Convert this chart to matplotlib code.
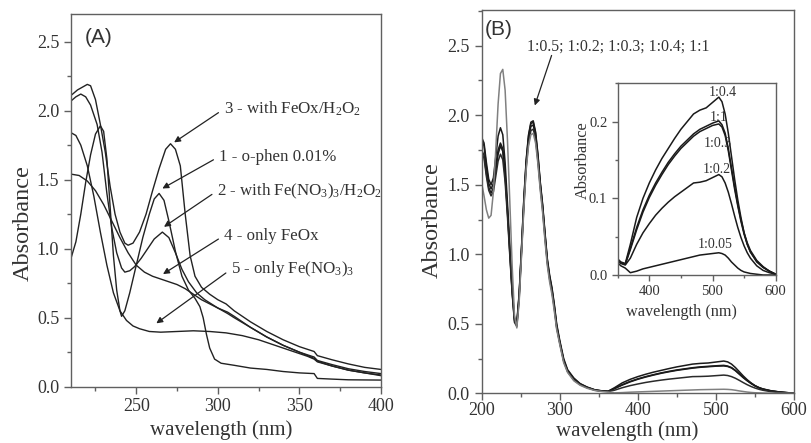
import matplotlib
matplotlib.use('Agg')
import matplotlib.pyplot as plt
from matplotlib.ticker import MultipleLocator, FormatStrFormatter

plt.rcParams['font.family'] = ['Liberation Serif', 'DejaVu Serif']
plt.rcParams['mathtext.fontset'] = 'custom'
plt.rcParams['mathtext.rm'] = 'Liberation Serif'
plt.rcParams['mathtext.it'] = 'Liberation Serif:italic'

# ---------------- Panel A data ----------------
xA3 = [210, 214, 217, 220, 222, 225, 228, 231, 234, 237, 240, 243, 245, 248, 252, 256, 260, 264, 268, 271,
       274, 277, 280, 283, 286, 290, 295, 300, 305, 307, 310, 320, 330, 340, 350, 359, 361, 370, 380, 390, 400]
yA3 = [2.11, 2.15, 2.17, 2.19, 2.18, 2.08, 1.90, 1.70, 1.45, 1.25, 1.12, 1.04, 1.025, 1.04, 1.12, 1.25, 1.42, 1.58, 1.72, 1.76,
       1.72, 1.60, 1.25, 0.95, 0.80, 0.72, 0.67, 0.63, 0.60, 0.58, 0.55, 0.47, 0.40, 0.34, 0.29, 0.255, 0.225, 0.195, 0.165, 0.14, 0.125]

xA2 = [210, 213, 216, 219, 222, 226, 229, 232, 235, 238, 241, 243, 246, 249, 253, 257, 261, 266, 270, 274,
       278, 282, 287, 292, 300, 306, 310, 320, 330, 340, 350, 359, 361, 370, 380, 390, 400]
yA2 = [2.07, 2.10, 2.12, 2.10, 2.04, 1.90, 1.70, 1.40, 1.15, 0.97, 0.86, 0.83, 0.84, 0.87, 0.93, 1.00, 1.07, 1.12, 1.08, 0.97,
       0.85, 0.76, 0.68, 0.63, 0.57, 0.54, 0.51, 0.43, 0.36, 0.30, 0.25, 0.215, 0.19, 0.16, 0.13, 0.11, 0.095]

xA4 = [210, 215, 220, 225, 230, 235, 240, 245, 250, 255, 260, 265, 270, 275, 280, 285, 290, 300, 306, 310,
       320, 330, 340, 350, 359, 361, 370, 380, 390, 400]
yA4 = [1.54, 1.53, 1.49, 1.42, 1.32, 1.20, 1.08, 0.97, 0.88, 0.83, 0.80, 0.78, 0.76, 0.74, 0.71, 0.67, 0.63, 0.57, 0.53, 0.50,
       0.43, 0.36, 0.30, 0.25, 0.205, 0.185, 0.15, 0.12, 0.10, 0.08]

xA5 = [210, 213, 216, 220, 224, 228, 232, 236, 240, 244, 248, 252, 258, 265, 275, 285, 295, 305, 315, 325,
       335, 345, 355, 359, 361, 370, 380, 390, 400]
yA5 = [1.84, 1.82, 1.75, 1.60, 1.38, 1.12, 0.88, 0.68, 0.55, 0.48, 0.44, 0.42, 0.40, 0.395, 0.40, 0.405, 0.40, 0.39, 0.37, 0.34,
       0.30, 0.26, 0.22, 0.20, 0.18, 0.15, 0.12, 0.10, 0.085]

xA1 = [210, 213, 216, 219, 222, 225, 228, 230, 232, 234, 236, 238, 240, 241, 243, 246, 250, 254, 258, 261,
       264, 267, 270, 274, 278, 282, 286, 289, 291, 293, 295, 298, 302, 310, 320, 330, 340, 350, 359, 361, 370, 380, 400]
yA1 = [0.93, 1.05, 1.25, 1.48, 1.68, 1.83, 1.89, 1.85, 1.65, 1.30, 0.95, 0.70, 0.55, 0.51, 0.55, 0.68, 0.88, 1.08, 1.25, 1.36,
       1.40, 1.35, 1.20, 0.98, 0.80, 0.70, 0.64, 0.58, 0.50, 0.38, 0.28, 0.20, 0.17, 0.155, 0.135, 0.125, 0.11, 0.10, 0.095, 0.06, 0.055, 0.05, 0.048]

seriesA = [(xA1, yA1), (xA2, yA2), (xA3, yA3), (xA4, yA4), (xA5, yA5)]

labelsA = [r'3 - with FeOx/H$_2$O$_2$', '1 - o-phen 0.01%', r'2 - with Fe(NO$_3$)$_3$/H$_2$O$_2$',
           '4 - only FeOx', r'5 - only Fe(NO$_3$)$_3$']
label_posA = [(303.5, 2.01), (300.5, 1.665), (299.5, 1.418), (303.5, 1.093), (308.0, 0.85)]
arrow_tipA = [(273.2, 1.77), (266.0, 1.436), (267.0, 1.158), (266.4, 0.816), (262.3, 0.459)]

# ---------------- Panel B data ----------------
xB = [200, 203, 206, 209, 212, 215, 218, 221, 224, 227, 230, 233, 236, 239, 242,
      245, 248, 251, 254, 257, 260, 263, 266, 269, 272, 275, 278, 281, 284, 287, 290, 293, 296,
      300, 305, 310, 318, 326, 335, 345, 355, 362,
      370, 380, 390, 400, 410, 420, 430, 440, 450, 460, 470, 480, 490, 500, 510,
      515, 520, 525, 530, 535, 540, 545, 550, 555, 560, 570, 580, 590, 600]

yB_04 = [1.84, 1.80, 1.66, 1.54, 1.50, 1.55, 1.70, 1.85, 1.91, 1.86, 1.66, 1.37, 1.06, 0.76, 0.54,
         0.51, 0.72, 1.05, 1.40, 1.68, 1.86, 1.95, 1.96, 1.88, 1.72, 1.52, 1.36, 1.16, 0.97, 0.85, 0.76, 0.64, 0.50,
         0.38, 0.25, 0.17, 0.11, 0.07, 0.045, 0.025, 0.017, 0.015,
         0.040, 0.075, 0.100, 0.120, 0.137, 0.152, 0.165, 0.178, 0.190, 0.200, 0.210, 0.215, 0.218, 0.225, 0.232,
         0.226, 0.210, 0.185, 0.155, 0.125, 0.098, 0.075, 0.055, 0.040, 0.030, 0.017, 0.010, 0.005, 0.001]

yB_11 = [1.82, 1.78, 1.63, 1.51, 1.47, 1.51, 1.63, 1.75, 1.80, 1.76, 1.58, 1.32, 1.03, 0.74, 0.53,
         0.50, 0.71, 1.04, 1.39, 1.67, 1.85, 1.94, 1.95, 1.87, 1.71, 1.51, 1.35, 1.15, 0.96, 0.84, 0.75, 0.63, 0.49,
         0.37, 0.24, 0.165, 0.105, 0.068, 0.043, 0.024, 0.016, 0.014,
         0.035, 0.062, 0.085, 0.104, 0.120, 0.134, 0.147, 0.158, 0.168, 0.176, 0.184, 0.190, 0.194, 0.198, 0.201,
         0.196, 0.185, 0.165, 0.140, 0.115, 0.092, 0.072, 0.055, 0.042, 0.032, 0.019, 0.011, 0.005, 0.001]

yB_03 = [1.75, 1.71, 1.58, 1.48, 1.44, 1.48, 1.60, 1.72, 1.78, 1.74, 1.56, 1.30, 1.01, 0.73, 0.52,
         0.49, 0.70, 1.03, 1.37, 1.65, 1.83, 1.92, 1.93, 1.85, 1.69, 1.50, 1.34, 1.14, 0.95, 0.83, 0.74, 0.62, 0.48,
         0.365, 0.235, 0.16, 0.10, 0.065, 0.042, 0.023, 0.016, 0.014,
         0.033, 0.059, 0.082, 0.101, 0.117, 0.131, 0.144, 0.155, 0.165, 0.173, 0.181, 0.187, 0.191, 0.195, 0.197,
         0.193, 0.182, 0.162, 0.137, 0.112, 0.090, 0.070, 0.053, 0.040, 0.030, 0.018, 0.010, 0.005, 0.001]

yB_02 = [1.73, 1.69, 1.56, 1.46, 1.42, 1.45, 1.56, 1.67, 1.72, 1.68, 1.52, 1.27, 0.99, 0.72, 0.51,
         0.48, 0.68, 1.01, 1.35, 1.63, 1.80, 1.89, 1.90, 1.83, 1.67, 1.48, 1.32, 1.12, 0.94, 0.82, 0.73, 0.61, 0.47,
         0.36, 0.23, 0.155, 0.095, 0.062, 0.040, 0.022, 0.015, 0.013,
         0.022, 0.040, 0.055, 0.067, 0.078, 0.087, 0.095, 0.102, 0.108, 0.114, 0.120, 0.121, 0.123, 0.127, 0.131,
         0.128, 0.120, 0.108, 0.093, 0.077, 0.062, 0.049, 0.038, 0.029, 0.022, 0.012, 0.006, 0.003, 0.001]

yB_005 = [1.51, 1.42, 1.32, 1.26, 1.28, 1.45, 1.75, 2.08, 2.30, 2.33, 2.18, 1.82, 1.38, 0.92, 0.56,
          0.47, 0.66, 0.99, 1.33, 1.61, 1.78, 1.86, 1.87, 1.80, 1.65, 1.46, 1.30, 1.10, 0.92, 0.80, 0.71, 0.59, 0.46,
          0.35, 0.22, 0.15, 0.09, 0.058, 0.036, 0.02, 0.012, 0.009,
          0.003, 0.005, 0.008, 0.010, 0.012, 0.014, 0.016, 0.018, 0.020, 0.022, 0.024, 0.026, 0.027, 0.028, 0.029,
          0.028, 0.026, 0.022, 0.017, 0.013, 0.009, 0.006, 0.004, 0.003, 0.002, 0.001, 0.0, 0.0, 0.0]

seriesB = [yB_04, yB_11, yB_03, yB_02, yB_005]
colorsB = ['#1a1a1a', '#1a1a1a', '#1a1a1a', '#2a2a2a', '#808080']

inset_labels = ['1:0.4', '1:1', '1:0.3', '1:0.2', '1:0.05']
inset_label_pos = [(516.6, 0.238), (509.0, 0.2056), (508.0, 0.171), (506.6, 0.138), (505.0, 0.040)]

ratio_text = '1:0.5; 1:0.2; 1:0.3; 1:0.4; 1:1'

# ---------------- Figure ----------------
W, H = 811, 443
fig = plt.figure(figsize=(W / 100, H / 100), dpi=100)

frame_col = '#606060'
text_col = '#333333'
line_col = '#222222'


def style(ax, fs_tick, major_len=5, minor_len=3, xpad=2):
    for s in ax.spines.values():
        s.set_color(frame_col)
        s.set_linewidth(1.0)
    ax.tick_params(which='both', direction='out', colors=frame_col, labelcolor=text_col,
                   labelsize=fs_tick, top=False, right=False, width=1.0)
    ax.tick_params(which='major', length=major_len)
    ax.tick_params(which='minor', length=minor_len)
    ax.tick_params(axis='x', which='major', pad=xpad)


def place_labels(ax, xl, yl, fs_x, fs_y, xpos, ypos):
    ax.set_xlabel(xl, fontsize=fs_x, color=text_col)
    ax.set_ylabel(yl, fontsize=fs_y, color=text_col)
    ax.xaxis.set_label_coords(*xpos)
    ax.yaxis.set_label_coords(*ypos)
    ax.xaxis.label.set_va('center')
    ax.yaxis.label.set_va('center')


axA = fig.add_axes([71 / W, (H - 386.7) / H, 310 / W, 372.7 / H])
for xs, ys in seriesA:
    axA.plot(xs, ys, color=line_col, lw=1.0)
axA.set_xlim(210, 400)
axA.set_ylim(0, 2.7)
axA.xaxis.set_major_locator(MultipleLocator(50))
axA.xaxis.set_minor_locator(MultipleLocator(25))
axA.yaxis.set_major_locator(MultipleLocator(0.5))
axA.yaxis.set_minor_locator(MultipleLocator(0.25))
axA.yaxis.set_major_formatter(FormatStrFormatter('%.1f'))
style(axA, 13, xpad=3)
place_labels(axA, 'wavelength (nm)', 'Absorbance', 15, 17.5,
             ((220.7 - 71) / 310, (386.7 - 430) / 372.7), ((23 - 71) / 310, (386.7 - 223) / 372.7))
axA.text(218.5, 2.53, '(A)', fontsize=15, color=text_col, family=['Liberation Sans'], va='center')
for lab, pos, tip in zip(labelsA, label_posA, arrow_tipA):
    axA.annotate(lab, xy=tip, xytext=pos, fontsize=12.2, color=text_col, ha='left', va='center',
                 arrowprops=dict(arrowstyle='-|>', color='#222222', lw=0.9, mutation_scale=9,
                                 shrinkA=2, shrinkB=0, relpos=(0, 0.5)))

axB = fig.add_axes([481.7 / W, (H - 393.3) / H, 312.3 / W, 383.3 / H])
for ys, c in zip(seriesB, colorsB):
    axB.plot(xB, ys, color=c, lw=1.1)
axB.set_xlim(200, 600)
axB.set_ylim(0, 2.757)
axB.xaxis.set_major_locator(MultipleLocator(100))
axB.xaxis.set_minor_locator(MultipleLocator(50))
axB.yaxis.set_major_locator(MultipleLocator(0.5))
axB.yaxis.set_minor_locator(MultipleLocator(0.25))
axB.yaxis.set_major_formatter(FormatStrFormatter('%.1f'))
style(axB, 13, xpad=1)
place_labels(axB, 'wavelength (nm)', 'Absorbance', 15, 17.5,
             ((627.5 - 481.7) / 312.3, (393.3 - 431.5) / 383.3), ((432 - 481.7) / 312.3, (393.3 - 220) / 383.3))
axB.text(204.5, 2.62, '(B)', fontsize=15, color=text_col, family=['Liberation Sans'], va='center')
axB.text(257.5, 2.49, ratio_text, fontsize=11.4, color=text_col, ha='left', va='center')
axB.annotate('', xy=(268, 2.07), xytext=(289.5, 2.43),
             arrowprops=dict(arrowstyle='-|>', color='#222222', lw=0.9, mutation_scale=9,
                             shrinkA=0, shrinkB=0))

axI = fig.add_axes([617.7 / W, (H - 275) / H, 158 / W, 191.7 / H])
for ys in seriesB:
    axI.plot(xB, ys, color='#1a1a1a', lw=1.1)
axI.set_xlim(350, 600)
axI.set_ylim(0, 0.25)
axI.xaxis.set_major_locator(MultipleLocator(100))
axI.xaxis.set_minor_locator(MultipleLocator(50))
axI.yaxis.set_major_locator(MultipleLocator(0.1))
axI.yaxis.set_minor_locator(MultipleLocator(0.05))
axI.yaxis.set_major_formatter(FormatStrFormatter('%.1f'))
style(axI, 10.5, major_len=4, minor_len=2.5, xpad=3)
place_labels(axI, 'wavelength (nm)', 'Absorbance', 11.7, 11.7,
             ((681.6 - 617.7) / 158, (275 - 311.7) / 191.7), ((582.5 - 617.7) / 158, (275 - 160) / 191.7))
for lab, pos in zip(inset_labels, inset_label_pos):
    axI.text(pos[0], pos[1], lab, fontsize=10, color=text_col, ha='center', va='center')

fig.savefig('out.png', dpi=100)
